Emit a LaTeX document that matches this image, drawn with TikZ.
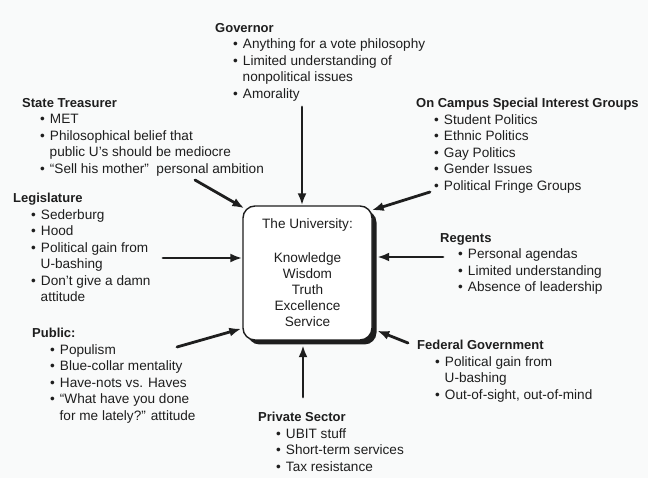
\documentclass[tikz,border=0pt]{standalone}
\usepackage{fontspec}
\setmainfont{Liberation Sans}
\usetikzlibrary{arrows.meta,calc,shadows}
\definecolor{scanPaper}{HTML}{F9FAFA}
\definecolor{scanInk}{HTML}{1E1E1E}
\newcommand{\itm}{\hspace*{18pt}\textbullet\hspace{5pt}}
\newcommand{\cnt}{\hspace*{27.5pt}}
\newcommand{\hd}[1]{{\fontsize{13}{16.5}\selectfont\bfseries #1}}
\begin{document}
\begin{tikzpicture}[x=1pt,y=-1pt,>=Latex,line cap=round,line join=round]
\path[fill=scanPaper] (0,0) rectangle (648,478);
\tikzset{grp/.style={anchor=north west,inner sep=0pt,align=left,text=scanInk,font=\fontsize{13.6}{16.5}\selectfont},feed/.style={draw=scanInk,line width=2.8pt,-{Latex[length=12pt,width=9pt]}}}
% centre box
\node[draw=scanInk,line width=1.4pt,fill=white,rounded corners=12pt,minimum width=129pt,minimum height=134pt,align=center,text=scanInk,font=\fontsize{13.6}{16}\selectfont,drop shadow={shadow xshift=4.5pt,shadow yshift=-4.5pt,opacity=1,fill=scanInk}] (uni) at (307.5,273) {The University:\\[18pt]Knowledge\\Wisdom\\Truth\\Excellence\\Service};
% groups round it
\node[grp] (gov) at (215,23) {\hd{Governor}\\\itm Anything for a vote philosophy\\\itm Limited understanding of\\\cnt nonpolitical issues\\\itm Amorality};
\node[grp] (treas) at (22,98) {\hd{State Treasurer}\\\itm MET\\\itm Philosophical belief that\\\cnt public U's should be mediocre\\\itm ``Sell his mother''\ \ personal ambition};
\node[grp] (legis) at (13,193) {\hd{Legislature}\\\itm Sederburg\\\itm Hood\\\itm Political gain from\\\cnt U-bashing\\\itm Don't give a damn\\\cnt attitude};
\node[grp] (public) at (32,328) {\hd{Public:}\\\itm Populism\\\itm Blue-collar mentality\\\itm Have-nots vs. Haves\\\itm ``What have you done\\\cnt for me lately?'' attitude};
\node[grp] (priv) at (258,412) {\hd{Private Sector}\\\itm UBIT stuff\\\itm Short-term services\\\itm Tax resistance};
\node[grp] (fed) at (417,340) {\hd{Federal Government}\\\itm Political gain from\\\cnt U-bashing\\\itm Out-of-sight, out-of-mind};
\node[grp] (reg) at (440,233) {\hd{Regents}\\\itm Personal agendas\\\itm Limited understanding\\\itm Absence of leadership};
\node[grp] (camp) at (416,98) {\hd{On Campus Special Interest Groups}\\\itm Student Politics\\\itm Ethnic Politics\\\itm Gay Politics\\\itm Gender Issues\\\itm Political Fringe Groups};
% arrow tails
\coordinate (govT) at (302,107); \coordinate (treasT) at (195,180); \coordinate (campT) at (430,192); \coordinate (legisT) at (163,258);
\coordinate (regT) at (443,257); \coordinate (publicT) at (177,347); \coordinate (fedT) at (408,343); \coordinate (privT) at (303,397);
% pressures on the university
\draw[feed] (govT) -- (govT |- uni.north);
\draw[feed] (treasT) -- ($(uni.north west)+(2,3)$);
\draw[feed] (campT) -- ($(uni.north east)+(-1,5)$);
\draw[feed] (legisT) -- (legisT -| uni.west);
\draw[feed] (regT) -- ($(regT -| uni.east)+(4.5,0)$);
\draw[feed] (publicT) -- ($(uni.south west)+(-1,-12)$);
\draw[feed] (fedT) -- ($(uni.south east)+(4.5,-10)$);
\draw[feed] (privT) -- ($(privT |- uni.south)+(0,4.5)$);
\end{tikzpicture}
\end{document}
